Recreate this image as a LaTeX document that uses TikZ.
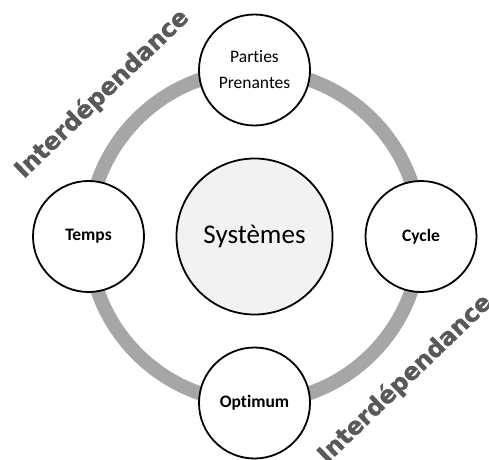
\documentclass[tikz,border=0pt]{standalone}
\usepackage{fontspec}
\setmainfont[RawFeature={-liga}]{Carlito}
\newfontfamily\heavyfont[FakeBold=1.2]{DejaVu Sans Bold}
\definecolor{ringgray}{HTML}{A6A6A6}
\definecolor{sysfill}{HTML}{F2F2F2}
\definecolor{labelgray}{HTML}{595959}
\begin{document}
\begin{tikzpicture}[x=1pt,y=1pt,
  satellite/.style={circle,draw=black,line width=1.8pt,fill=white,minimum size=111pt,inner sep=0pt,align=center,font=\fontsize{17.5}{26}\selectfont},
  hub/.style={circle,draw=black,line width=1.8pt,fill=sysfill,minimum size=156pt,inner sep=0pt,font=\fontsize{27}{32}\selectfont},
  ringline/.style={draw=ringgray,line width=14pt},
  sidetext/.style={text=labelgray,font=\heavyfont\fontsize{24}{28}\selectfont,inner sep=0pt}]
\useasboundingbox (0,0) rectangle (489,459);
\coordinate (ctr) at (254.5,222.5);
\draw[ringline] (ctr) circle[radius=166];
\node[hub] (sys) at (ctr) {Systèmes};
\node[satellite] (parties) at (254.5,389) {Parties\\Prenantes};
\node[satellite] (temps) at (88.5,222.5) {\bfseries Temps};
\node[satellite] (cycle) at (421,222.5) {\bfseries Cycle};
\node[satellite] (optimum) at (254.5,56) {\bfseries Optimum};
\node[sidetext,rotate=44] (inter1) at (102,365) {Interdépendance};
\node[sidetext,rotate=44] (inter2) at (405,80) {Interdépendance};
\end{tikzpicture}
\end{document}
